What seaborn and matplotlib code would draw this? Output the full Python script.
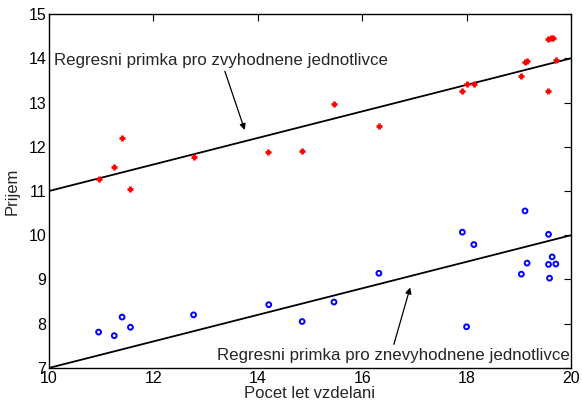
import pandas as pd
import seaborn as sns
from matplotlib import pyplot as plt

# years of education, same for both groups
skoly = [10.95, 11.25, 11.40, 11.56, 12.77, 14.20, 14.85, 15.46, 16.32, 17.92,
         18.00, 18.14, 19.05, 19.12, 19.16, 19.57, 19.61, 19.65, 19.57, 19.71]
prijem_zvyh = [11.28, 11.55, 12.20, 11.04, 11.76, 11.88, 11.91, 12.97, 12.47, 13.27,
               13.41, 13.41, 13.60, 13.91, 13.94, 14.43, 14.45, 14.46, 13.27, 13.96]

skoly_nezvyh = [10.95, 11.25, 11.40, 11.56, 12.77, 14.21, 14.85, 15.46, 16.32, 17.92,
                18.00, 18.14, 19.05, 19.12, 19.16, 19.57, 19.57, 19.64, 19.59, 19.71]
prijem_nezvyh = [7.81, 7.73, 8.15, 7.92, 8.20, 8.43, 8.05, 8.49, 9.14, 10.07,
                 7.93, 9.79, 9.12, 10.55, 9.37, 10.02, 9.34, 9.51, 9.03, 9.35]

# regression lines
primka_x = [10, 20]
primka_zvyh = [11, 14]
primka_nezvyh = [7, 10]

sns.set_theme(style="white")
plt.rcParams['font.family'] = ['Liberation Sans', 'DejaVu Sans']

fig = plt.figure(figsize=(5.82, 4.03), dpi=100)
ax = fig.add_axes([0.0842, 0.087, 0.8968, 0.878])

df_z = pd.DataFrame({"x": skoly, "y": prijem_zvyh})
df_n = pd.DataFrame({"x": skoly_nezvyh, "y": prijem_nezvyh})
df_lz = pd.DataFrame({"x": primka_x, "y": primka_zvyh})
df_ln = pd.DataFrame({"x": primka_x, "y": primka_nezvyh})

sns.scatterplot(data=df_z, x="x", y="y", ax=ax, marker="+", color="red",
                s=14, linewidth=2.0, zorder=3)
sns.scatterplot(data=df_n, x="x", y="y", ax=ax, marker="o", facecolor="none",
                edgecolor="blue", s=12, linewidth=1.4, zorder=3)
sns.lineplot(data=df_lz, x="x", y="y", ax=ax, color="black", linewidth=1.3)
sns.lineplot(data=df_ln, x="x", y="y", ax=ax, color="black", linewidth=1.3)

ax.annotate("Regresni primka pro zvyhodnene jednotlivce", xy=(13.75, 12.38),
            xytext=(10.1, 13.95), ha="left", va="center", fontsize=12.2,
            arrowprops=dict(arrowstyle="-|>", color="black", lw=0.9,
                            shrinkA=0, shrinkB=0, mutation_scale=9),
            )
ax.annotate("Regresni primka pro znevyhodnene jednotlivce", xy=(16.92, 8.82),
            xytext=(19.97, 7.29), ha="right", va="center", fontsize=12.2,
            arrowprops=dict(arrowstyle="-|>", color="black", lw=0.9,
                            shrinkA=0, shrinkB=0, mutation_scale=9,
                            relpos=(0.5, 1.0)),
            )

ax.set_xlim(10, 20)
ax.set_ylim(7, 15)
ax.set_xticks([10, 12, 14, 16, 18, 20])
ax.set_yticks(range(7, 16))
ax.tick_params(direction="in", top=True, right=True, length=5, width=0.8,
               labelsize=11.5, pad=2, colors="black")
for sp in ax.spines.values():
    sp.set_color("black")
    sp.set_linewidth(1.0)
ax.set_xlabel("Pocet let vzdelani", fontsize=12, labelpad=0)
ax.set_ylabel("Prijem", fontsize=12, labelpad=6)

plt.savefig("out.png", dpi=100)
